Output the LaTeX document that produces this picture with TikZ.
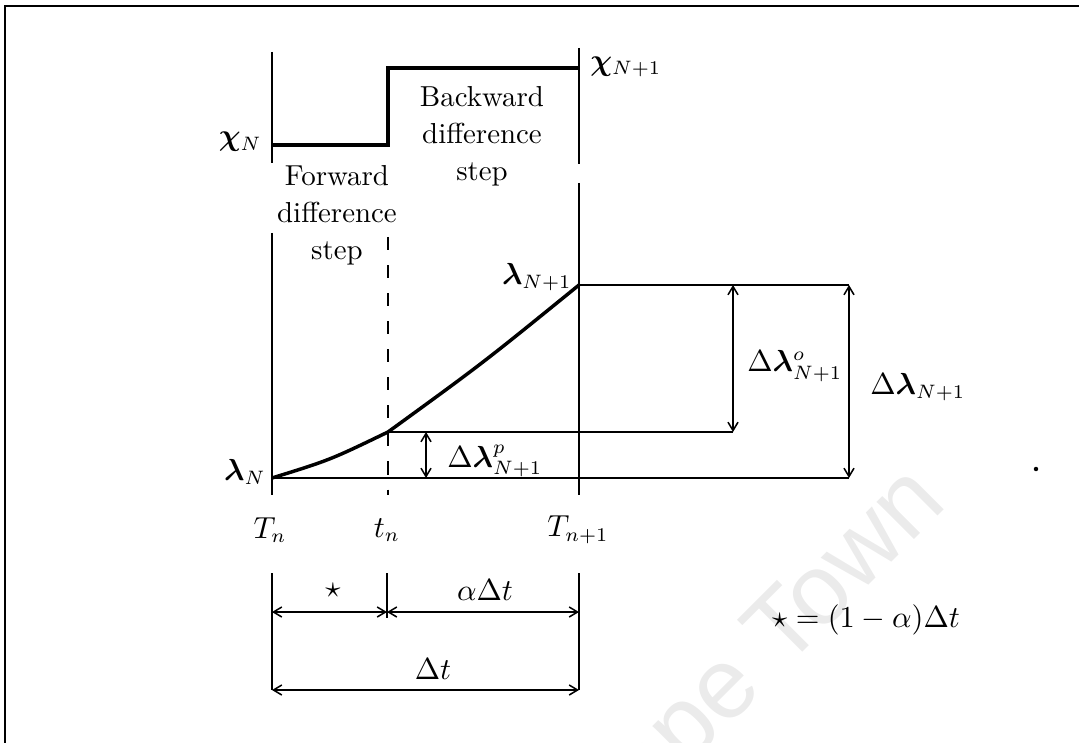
\documentclass[tikz,border=0pt]{standalone}
\usepackage{amsmath,bm}
\usepackage{fontspec}
\newfontfamily\wmfont{Liberation Sans}
\usetikzlibrary{arrows.meta}
\begin{document}
\begin{tikzpicture}[x=0.36pt,y=-0.36pt,
  thickline/.style={line width=1.25pt},
  axisline/.style={line width=1.0pt},
  thinline/.style={line width=0.6pt},
  dashline/.style={line width=1.0pt, dash pattern=on 4.7pt off 5.4pt},
  dim/.style={line width=0.55pt,{Straight Barb[length=3pt,width=3.6pt]}-{Straight Barb[length=3pt,width=3.6pt]}},
  lbl/.style={inner sep=1pt, font=\fontsize{10.5}{13.3}\selectfont},
  steptext/.style={align=center, font=\fontsize{10.4}{13.3}\selectfont, inner sep=0pt}]
\useasboundingbox (0,0) rectangle (1079,743);
\clip (0,0) rectangle (1079,743);

% watermark
\node[rotate=45, text=black!8, font=\wmfont\fontsize{36}{40}\selectfont] (wm) at (755,665) {Cape Town};

% frame
\coordinate (fTL) at (5,6);
\coordinate (fTR) at (1079,6);
\coordinate (fBL) at (5,743);
\draw[line width=1pt] (fBL) -- (fTL) -- (fTR);

% upper (chi) part
\coordinate (A1) at (272,52);  \coordinate (A2) at (272,163);
\coordinate (B1) at (579,48);  \coordinate (B2) at (579,164);
\coordinate (c1) at (272,145); \coordinate (c2) at (388,145);
\coordinate (c3) at (388,68);  \coordinate (c4) at (579,68);
\draw[axisline] (A1) -- (A2);
\draw[axisline] (B1) -- (B2);
\draw[thickline] (c1) -- (c2) -- (c3) -- (c4);

\node[lbl, anchor=east] (chiN) at (265,142) {$\bm{\chi}_N$};
\node[lbl, anchor=west] (chiN1) at (587,67) {$\bm{\chi}_{N+1}$};
\node[steptext] (bw) at (482,136) {Backward\\difference\\step};
\node[steptext] (fw) at (337,215) {Forward\\difference\\step};

% lower (lambda) part
\coordinate (L1) at (272,233); \coordinate (L2) at (272,495);
\coordinate (R1) at (579,183); \coordinate (R2) at (579,495);
\coordinate (D1) at (388,237); \coordinate (D2) at (388,495);
\draw[axisline] (L1) -- (L2);
\draw[axisline] (R1) -- (R2);
\draw[dashline] (D1) -- (D2);

\coordinate (lamN) at (272,478);
\coordinate (kink) at (388,432);
\coordinate (lamN1) at (579,285);
\draw[thickline, line join=round] (lamN) .. controls (330,460) .. (kink) .. controls (483,363) .. (lamN1);

\coordinate (h1) at (849,285);
\coordinate (h2) at (733,432);
\coordinate (h3) at (849,478);
\coordinate (o1) at (733,285);
\coordinate (p1) at (426,432);
\coordinate (p2) at (426,478);
\draw[thinline] (lamN1) -- (h1);
\draw[thinline] (kink) -- (h2);
\draw[thinline] (lamN) -- (h3);
\draw[dim] (p1) -- (p2);
\draw[dim] (o1) -- (h2);
\draw[dim] (h1) -- (h3);

\node[lbl, anchor=east] (lN) at (269,472) {$\bm{\lambda}_N$};
\node[lbl, anchor=east] (lN1) at (575,277) {$\bm{\lambda}_{N+1}$};
\node[lbl, anchor=west] (dlp) at (444,461) {$\Delta\bm{\lambda}^{p}_{N+1}$};
\node[lbl, anchor=west] (dlo) at (744,366) {$\Delta\bm{\lambda}^{o}_{N+1}$};
\node[lbl, anchor=west] (dl) at (867,387) {$\Delta\bm{\lambda}_{N+1}$};

% time labels
\node[lbl] (Tn) at (270,530) {$T_n$};
\node[lbl] (tn) at (387,530) {$t_n$};
\node[lbl] (Tn1) at (578,530) {$T_{n+1}$};

% dimension lines
\coordinate (k1a) at (272,573); \coordinate (k1b) at (272,690);
\coordinate (k2a) at (387,573); \coordinate (k2b) at (387,618);
\coordinate (k3a) at (579,573); \coordinate (k3b) at (579,690);
\coordinate (m1) at (272,612); \coordinate (m2) at (387,612); \coordinate (m3) at (579,612);
\draw[thinline] (k1a) -- (k1b);
\draw[thinline] (k2a) -- (k2b);
\draw[thinline] (k3a) -- (k3b);
\draw[dim] (m1) -- (m2);
\draw[dim] (m2) -- (m3);
\draw[dim] (k1b) -- (k3b);

\node[lbl] (star) at (333,590) {$\star$};
\node[lbl] (adt) at (485,590) {$\alpha\Delta t$};
\node[lbl] (dt) at (433,669) {$\Delta t$};
\node[lbl] (starf) at (866,620) {$\star=(1-\alpha)\Delta t$};

% speck
\fill (1036,469) circle (0.8pt);
\end{tikzpicture}
\end{document}
